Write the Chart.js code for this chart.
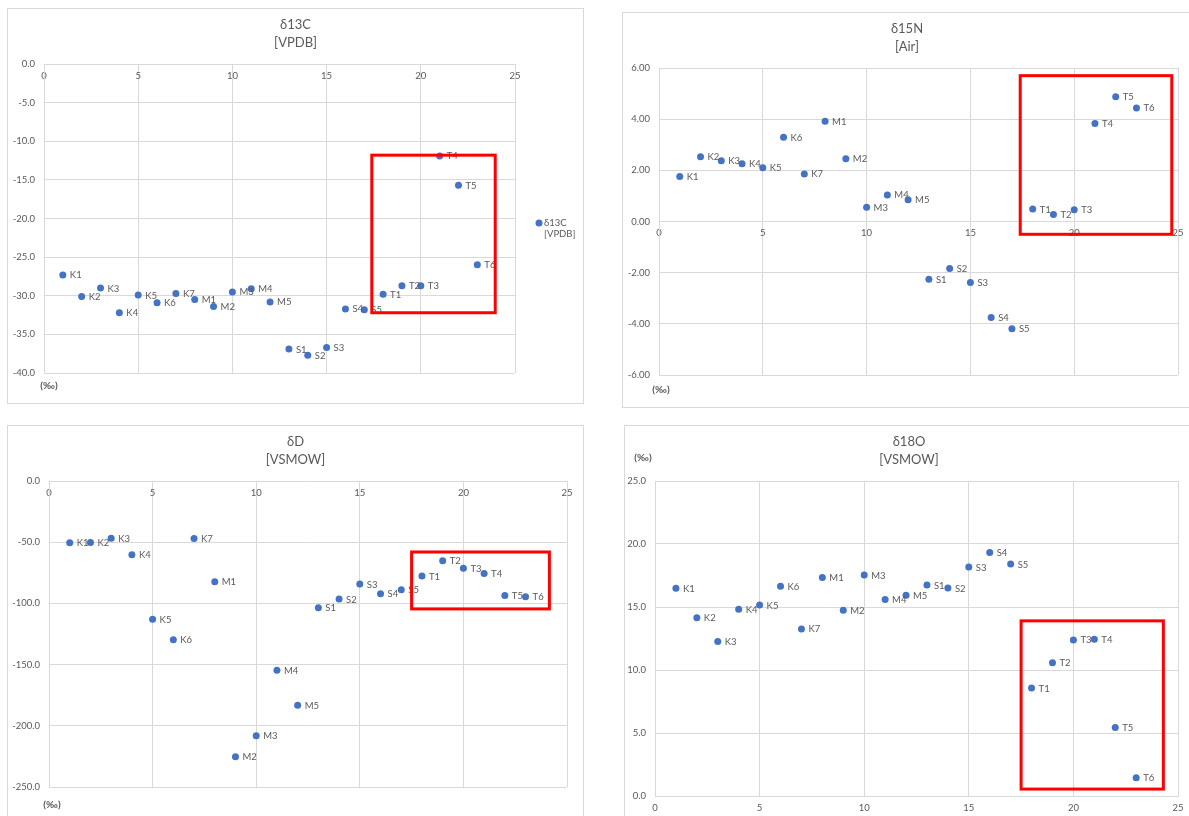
<!DOCTYPE html>
<html>
<head>
<meta charset="utf-8">
<script src="https://cdn.jsdelivr.net/npm/chart.js@4/dist/chart.umd.min.js"></script>
<style>
  body { margin: 0; background: #fff; width: 1189px; height: 816px; overflow: hidden; position: relative; }
  .panel { position: absolute; border: 1px solid #d9d9d9; background: #fff; }
  .panel canvas { display: block; }
</style>
</head>
<body>
<div class="panel" style="left:7px;top:8px;"><canvas id="c13C" width="575" height="394"></canvas></div>
<div class="panel" style="left:622px;top:12px;"><canvas id="c15N" width="568" height="394"></canvas></div>
<div class="panel" style="left:7px;top:425px;"><canvas id="cD" width="575" height="398"></canvas></div>
<div class="panel" style="left:624px;top:425px;"><canvas id="c18O" width="568" height="398"></canvas></div>

<script>
// samples, numbered along the x axis
const sampleNames = ["K1", "K2", "K3", "K4", "K5", "K6", "K7", "M1", "M2", "M3", "M4", "M5",
  "S1", "S2", "S3", "S4", "S5", "T1", "T2", "T3", "T4", "T5", "T6"];
const sampleNo = [1, 2, 3, 4, 5, 6, 7, 8, 9, 10, 11, 12, 13, 14, 15, 16, 17, 18, 19, 20, 21, 22, 23];

// isotope ratios (‰)
const d13C = [-27.3, -30.1, -29.0, -32.2, -29.9, -30.9, -29.7, -30.5, -31.4, -29.5, -29.1, -30.8,
  -36.9, -37.7, -36.7, -31.7, -31.8, -29.8, -28.7, -28.7, -11.9, -15.7, -26.0];
const d15N = [1.76, 2.53, 2.37, 2.26, 2.10, 3.29, 1.86, 3.92, 2.45, 0.56, 1.04, 0.85,
  -2.26, -1.84, -2.38, -3.75, -4.19, 0.49, 0.27, 0.46, 3.83, 4.88, 4.44];
const dD = [-50.5, -50.3, -46.7, -60.3, -113.0, -129.6, -47.0, -82.3, -225.3, -208.2, -154.6, -183.2,
  -103.5, -96.5, -84.2, -92.1, -88.9, -77.7, -65.2, -71.2, -75.5, -93.5, -94.6];
const d18O = [16.48, 14.14, 12.26, 14.82, 15.16, 16.64, 13.26, 17.35, 14.74, 17.54, 15.59, 15.93,
  16.75, 16.51, 18.17, 19.33, 18.41, 8.57, 10.57, 12.39, 12.45, 5.43, 1.45];

// y axis: min, max, step, decimals
const yAxis13C = [-40, 0, 5, 1];
const yAxis15N = [-6, 6, 2, 2];
const yAxisD = [-250, 0, 50, 1];
const yAxis18O = [0, 25, 5, 1];

// highlighted T group: x from, x to, y from, y to
const frame13C = [17.4, 23.95, -11.8, -32.2];
const frame15N = [17.4, 24.7, 5.7, -0.5];
const frameD = [17.5, 24.15, -58, -104.5];
const frame18O = [17.5, 24.3, 13.9, 0.55];

const FONT = 'Lato, "Liberation Sans", sans-serif';
const GREY = "#595959";
const GRID = "#d9d9d9";

const decor = {
  id: "isoDecor",
  afterDatasetsDraw(chart, args, opts) {
    const ctx = chart.ctx;
    const meta = chart.getDatasetMeta(0);
    ctx.save();
    ctx.font = "9.5px " + FONT;
    ctx.fillStyle = GREY;
    ctx.textAlign = "left";
    ctx.textBaseline = "middle";
    meta.data.forEach((pt, i) => ctx.fillText(sampleNames[i], pt.x + 7, pt.y + 0.5));

    const f = opts.frame;
    const xs = chart.scales.x, ys = chart.scales.y;
    const x1 = xs.getPixelForValue(f[0]), x2 = xs.getPixelForValue(f[1]);
    const y1 = ys.getPixelForValue(f[2]), y2 = ys.getPixelForValue(f[3]);
    ctx.strokeStyle = "#ff0000";
    ctx.lineWidth = 3;
    ctx.strokeRect(x1, y1, x2 - x1, y2 - y1);
    ctx.restore();
  },
  afterDraw(chart, args, opts) {
    const ctx = chart.ctx;
    ctx.save();
    ctx.fillStyle = GREY;
    ctx.textAlign = "center";
    ctx.textBaseline = "middle";
    ctx.font = "13px " + FONT;
    opts.title.forEach((t, i) => ctx.fillText(t, chart.width / 2, 16 + i * 18));

    ctx.font = "bold 10px " + FONT;
    ctx.fillText("(‰)", opts.unit[0], opts.unit[1]);

    if (opts.legend) {
      const ds = chart.data.datasets[0];
      const [lx, ly] = opts.legend;
      ctx.fillStyle = ds.backgroundColor;
      ctx.beginPath();
      ctx.arc(lx, ly, 3.5, 0, Math.PI * 2);
      ctx.fill();
      ctx.fillStyle = GREY;
      ctx.textAlign = "left";
      ctx.font = "9.5px " + FONT;
      ds.label.split("\n").forEach((t, i) => ctx.fillText(t, lx + 5, ly + i * 11));
    }
    ctx.restore();
  }
};

function isoChart(id, o) {
  const [yMin, yMax, yStep, dec] = o.yAxis;
  return new Chart(document.getElementById(id), {
    type: "scatter",
    data: {
      datasets: [{
        label: o.label,
        data: sampleNo.map((x, i) => ({ x, y: o.values[i] })),
        backgroundColor: "#4472c4",
        borderWidth: 0,
        pointRadius: 3.5
      }]
    },
    options: {
      responsive: false,
      animation: false,
      events: [],
      layout: { padding: o.pad },
      scales: {
        x: {
          type: "linear",
          min: 0,
          max: 25,
          position: { y: 0 },
          ticks: { stepSize: 5, padding: 6, color: GREY, font: { family: FONT, size: 9.5 } },
          grid: { color: GRID, drawTicks: false },
          border: { color: GRID }
        },
        y: {
          min: yMin,
          max: yMax,
          afterFit: (s) => { s.width = o.axisWidth; },
          ticks: {
            stepSize: yStep,
            padding: 9,
            color: GREY,
            font: { family: FONT, size: 9.5 },
            callback: (v) => v.toFixed(dec)
          },
          grid: { color: GRID, drawTicks: false },
          border: { color: GRID }
        }
      },
      plugins: {
        legend: { display: false },
        tooltip: { enabled: false },
        isoDecor: { title: o.title, unit: o.unit, legend: o.legend, frame: o.frame }
      }
    },
    plugins: [decor]
  });
}

isoChart("c13C", {
  label: "δ13C\n[VPDB]", title: ["δ13C", "[VPDB]"], values: d13C, yAxis: yAxis13C, frame: frame13C,
  pad: { left: 0, top: 55, right: 68, bottom: 30 }, axisWidth: 36,
  unit: [41, 377], legend: [531, 214]
});
isoChart("c15N", {
  label: "δ15N\n[Air]", title: ["δ15N", "[Air]"], values: d15N, yAxis: yAxis15N, frame: frame15N,
  pad: { left: 0, top: 55, right: 13, bottom: 32 }, axisWidth: 36,
  unit: [38, 377]
});
isoChart("cD", {
  label: "δD\n[VSMOW]", title: ["δD", "[VSMOW]"], values: dD, yAxis: yAxisD, frame: frameD,
  pad: { left: 0, top: 55, right: 16, bottom: 37 }, axisWidth: 41,
  unit: [44, 379]
});
isoChart("c18O", {
  label: "δ18O\n[VSMOW]", title: ["δ18O", "[VSMOW]"], values: d18O, yAxis: yAxis18O, frame: frame18O,
  pad: { left: 0, top: 55, right: 15, bottom: 28 }, axisWidth: 30,
  unit: [18, 32]
});
</script>
</body>
</html>
